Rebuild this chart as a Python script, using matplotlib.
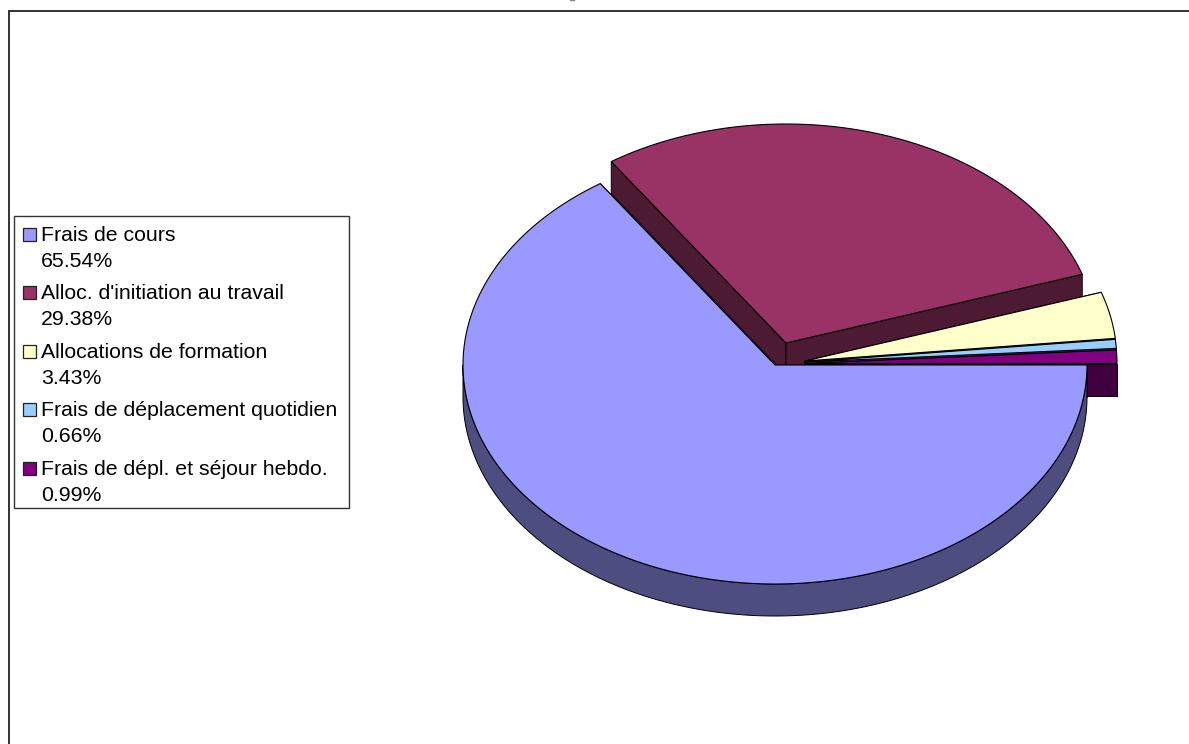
import numpy as np
import matplotlib
matplotlib.use('Agg')
import matplotlib.pyplot as plt
from matplotlib.patches import Rectangle

plt.rcParams['font.family'] = ['Liberation Sans', 'DejaVu Sans']

labels = ['Frais de cours', "Alloc. d'initiation au travail", 'Allocations de formation',
          'Frais de déplacement quotidien', 'Frais de dépl. et séjour hebdo.']
shares = [65.54, 29.38, 3.43, 0.66, 0.99]
colors = ['#9999ff', '#993366', '#ffffcc', '#99ccff', '#800080']
side_colors = ['#4d4d80', '#4d1a33', '#808066', '#4d6680', '#400040']
# slice centres on the canvas, in pixels
centers = [(775, 365), (786, 343), (805, 361), (805, 362), (805, 363.5)]

RX, RY, DEPTH = 312, 219, 32

fig = plt.figure(figsize=(11.89, 7.44), dpi=100)
ax = fig.add_axes([0, 0, 1, 1])
ax.set_xlim(0, 1189)
ax.set_ylim(744, 0)
ax.axis('off')

# slices run clockwise from 3 o'clock
ends = 360 - np.cumsum(shares) * 3.6
starts = np.r_[360, ends[:-1]]


def rim(c, a0, a1):
    t = np.radians(np.linspace(a0, a1, 300))
    return c[0] + RX * np.cos(t), c[1] - RY * np.sin(t)


def draw_slice(i, z):
    c = centers[i]
    # cut faces first, the top covers whatever part of them is hidden
    for a in (starts[i], ends[i]):
        ex, ey = rim(c, a, a)
        ax.fill([c[0], ex[0], ex[0], c[0]], [c[1], ey[0], ey[0] + DEPTH, c[1] + DEPTH],
                fc=side_colors[i], ec='black', lw=0.7, zorder=z)
    # outer wall only shows on the front half of the pie
    a0, a1 = max(ends[i], 180), starts[i]
    if a1 > a0:
        wx, wy = rim(c, a0, a1)
        ax.fill(np.r_[wx, wx[::-1]], np.r_[wy, wy[::-1] + DEPTH],
                fc=side_colors[i], ec='black', lw=0.7, zorder=z)
    x, y = rim(c, starts[i], ends[i])
    ax.fill(np.r_[c[0], x], np.r_[c[1], y], fc=colors[i], ec='black', lw=0.8, zorder=z + 0.5)


draw_slice(1, 2)
draw_slice(2, 3)
draw_slice(3, 4)
draw_slice(4, 5)
draw_slice(0, 6)

# chart frame, open at the bottom and right edges of the canvas
ax.plot([9, 9, 1189], [744, 11, 11], color='#333333', lw=1.4, zorder=1, solid_joinstyle='miter')
# foot of the cropped title above the frame
ax.plot([570, 574], [0.4, 0.4], color='#888888', lw=1.0, zorder=1)

# legend
ax.add_patch(Rectangle((14, 216), 335, 292, fc='white', ec='#333333', lw=1.0, zorder=8))
y = 240.7
for name, share, col in zip(labels, shares, colors):
    ax.add_patch(Rectangle((23, y - 13), 12.5, 13, fc=col, ec='#222222', lw=0.9, zorder=9))
    ax.text(41, y, name, fontsize=15.35, va='baseline', ha='left', color='black', zorder=9)
    ax.text(41, y + 26, f'{share:.2f}%', fontsize=15.35, va='baseline', ha='left', color='black', zorder=9)
    y += 58.5

fig.savefig('out.png', dpi=100)
